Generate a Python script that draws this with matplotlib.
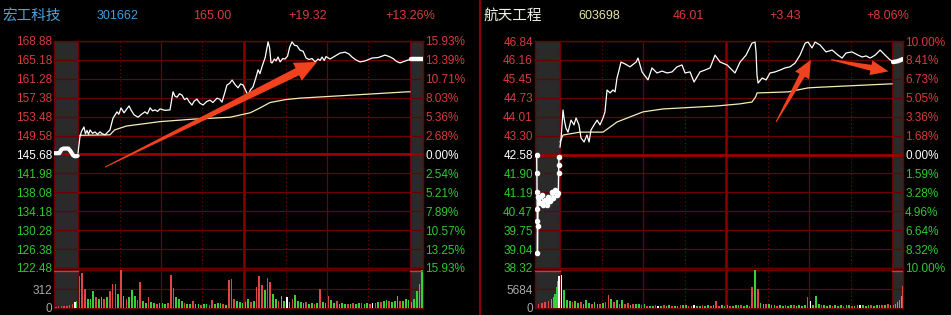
import numpy as np
import matplotlib
matplotlib.use("Agg")
import matplotlib.pyplot as plt
from matplotlib.patches import Polygon
from matplotlib.transforms import IdentityTransform

# ---------------- data ----------------
# header
left_name, left_code, left_price, left_chg, left_pct = "宏工科技", "301662", "165.00", "+19.32", "+13.26%"
right_name, right_code, right_price, right_chg, right_pct = "航天工程", "603698", "46.01", "+3.43", "+8.06%"

# axis labels
left_price_labels = ["168.88", "165.18", "161.28", "157.38", "153.48", "149.58", "145.68",
                     "141.98", "138.08", "134.18", "130.28", "126.38", "122.48"]
left_pct_labels = ["15.93%", "13.39%", "10.71%", "8.03%", "5.36%", "2.68%", "0.00%",
                   "2.54%", "5.21%", "7.89%", "10.57%", "13.25%", "15.93%"]
right_price_labels = ["46.84", "46.16", "45.45", "44.73", "44.01", "43.30", "42.58",
                      "41.90", "41.19", "40.47", "39.75", "39.04", "38.32"]
right_pct_labels = ["10.00%", "8.41%", "6.73%", "5.05%", "3.36%", "1.68%", "0.00%",
                    "1.59%", "3.28%", "4.96%", "6.64%", "8.32%", "10.00%"]
left_vol_labels = ["0", "312"]
right_vol_labels = ["0", "5684"]

# left stock: call auction, intraday price, average, closing auction (minutes from 9:30)
left_pre_t = [-17.3, -13.5, -12.0, -10.5, -7.0, -5.5, -3.5, -2.0, -0.3]
left_pre_p = [145.95, 145.95, 146.7, 146.9, 146.9, 146.4, 145.5, 145.3, 145.4]
left_t = [0, 1.4, 2.5, 4.3, 5.4, 6.5, 7.6, 8.7, 10.5, 12.3, 14.1, 15.9, 17.7, 19.5, 21.3, 23.1,
          25.3, 28.2, 29.5, 31.1, 33.3, 35.0, 36.9, 38.7, 40.5, 43.4, 45.9, 48.4, 50.2, 52.1,
          54.0, 55.7, 57.5, 59.3, 62.9, 66.5, 68.7, 70.1, 71.6, 73.4, 75.2, 77.0, 78.8, 80.5,
          82.4, 84.0, 86.0, 88.0, 90.4, 93.0, 95.4, 97.5, 100.5, 102.3, 104.1, 106.0, 107.7,
          109.6, 111.4, 113.5, 115.7, 117.5, 119.3, 121.0, 122.9, 124.7, 126.5, 128.4, 130.2,
          131.5, 133.0, 135.3, 137.4, 138.5, 139.5, 140.3, 142.0, 143.2, 144.6, 146.1, 148.0,
          149.7, 151.5, 153.0, 154.7, 156.5, 158.3, 160.5, 162.7, 164.9, 167.0, 169.2, 171.4,
          173.6, 175.0, 176.4, 178.0, 179.3, 182.2, 185.8, 189.4, 193.1, 196.0, 198.1, 201.0,
          203.9, 207.5, 212.6, 217.0, 222.0, 225.0, 227.8, 230.3, 232.8, 235.7, 238.6, 240]
left_p = [145.99, 149.3, 150.4, 151.3, 149.9, 150.6, 149.8, 150.7, 150.0, 150.3, 149.8, 150.3,
          149.9, 149.7, 150.2, 150.7, 153.1, 154.4, 153.9, 155.2, 154.2, 154.9, 155.6, 154.6,
          153.8, 153.3, 153.9, 154.4, 154.0, 155.2, 154.6, 154.8, 154.5, 155.0, 154.7, 154.8,
          158.5, 157.6, 157.4, 158.1, 157.8, 156.9, 157.2, 156.4, 155.8, 156.6, 157.0, 156.2,
          155.8, 156.5, 156.8, 156.3, 157.2, 157.0, 156.4, 158.2, 159.9, 160.2, 160.9, 160.0,
          159.3, 160.1, 159.9, 158.9, 157.8, 158.9, 159.5, 161.2, 163.0, 162.2, 163.6, 165.5,
          168.7, 167.5, 164.5, 164.4, 165.2, 164.8, 165.6, 164.6, 165.3, 165.2, 165.8, 167.6,
          168.7, 168.0, 167.9, 167.0, 166.8, 165.4, 165.1, 165.3, 164.6, 165.2, 164.9, 165.6,
          164.9, 165.7, 165.2, 165.8, 166.4, 166.6, 166.2, 165.6, 165.0, 164.6, 164.8, 165.4,
          165.5, 166.0, 165.7, 165.3, 164.7, 164.4, 164.7, 165.0, 165.0]
left_avg_t = [1.4, 23.1, 26.5, 35.0, 59.3, 83.0, 109.9, 124.4, 131.6, 138.8, 150.0, 160.5, 196.7, 238.6, 240]
left_avg_p = [149.6, 149.7, 150.7, 151.5, 152.4, 152.9, 153.3, 154.2, 155.2, 156.3, 156.9, 157.2, 157.8, 158.5, 158.5]
left_post_t = [240.7, 249.2]
left_post_p = [165.2, 165.2]

# right stock
right_pre_t = [-16.9, -16.7, -16.6, -16.5, -16.4, -16.3, -16.1, -15.7, -14.5, -13.2, -12.1, -10.8,
               -9.6, -8.5, -7.2, -6.0, -4.8, -3.6, -2.4, -1.2, -1.0, -0.9, -0.8]
right_pre_p = [42.58, 41.90, 41.16, 40.54, 40.10, 38.90, 39.90, 41.00, 40.76, 41.06, 40.69, 40.87,
               40.69, 41.00, 40.82, 41.19, 40.94, 41.25, 41.06, 41.13, 41.90, 42.20, 42.47]
right_t = [0, 0.7, 2.2, 2.9, 4.3, 5.8, 8.0, 10.1, 11.6, 13.7, 15.2, 17.4, 19.5, 21.0, 22.4, 24.6,
           26.8, 28.9, 31.1, 32.5, 34.0, 36.2, 38.3, 39.8, 41.2, 42.7, 44.1, 47.0, 50.6, 55.0,
           56.4, 59.3, 63.6, 66.5, 70.1, 73.8, 77.4, 81.0, 84.6, 88.2, 90.4, 94.0, 96.9, 101.2,
           104.8, 108.5, 112.1, 115.7, 120.8, 126.5, 130.2, 134.5, 138.8, 141.0, 141.7, 142.4,
           143.2, 146.1, 149.0, 151.8, 155.5, 159.1, 162.7, 166.3, 169.9, 173.5, 177.2, 179.3,
           182.2, 184.4, 188.0, 192.3, 196.7, 201.0, 203.9, 206.8, 211.1, 215.5, 218.4, 221.3,
           224.2, 227.8, 231.4, 235.0, 238.6, 240]
right_p = [42.86, 43.12, 44.25, 43.95, 43.57, 43.42, 43.87, 43.69, 43.95, 43.69, 43.20, 43.05,
           43.31, 43.05, 43.50, 43.69, 43.87, 43.69, 43.95, 44.18, 45.00, 44.89, 45.00, 44.93,
           45.45, 45.75, 46.05, 45.98, 45.87, 46.05, 46.20, 45.68, 45.38, 45.83, 45.64, 45.71,
           45.64, 45.68, 45.87, 45.94, 45.64, 45.68, 45.30, 45.68, 45.75, 45.83, 46.31, 46.05,
           45.94, 45.64, 46.05, 46.31, 46.76, 46.80, 46.43, 45.56, 45.26, 45.45, 45.38, 45.64,
           45.68, 45.75, 45.83, 45.87, 46.01, 46.31, 46.76, 46.80, 46.58, 46.80, 46.69, 46.43,
           46.50, 46.31, 46.20, 46.39, 46.43, 46.31, 46.24, 46.28, 46.20, 46.31, 46.50, 46.31,
           46.13, 46.10]
right_avg_t = [0.0, 2.2, 14.5, 31.1, 36.2, 41.2, 50.6, 60.0, 74.5, 99.0, 113.0, 130.0, 138.8,
               141.5, 142.4, 164.9, 179.3, 185.8, 238.6, 240]
right_avg_p = [43.05, 43.31, 43.42, 43.42, 43.61, 43.80, 43.99, 44.18, 44.29, 44.36, 44.40,
               44.48, 44.55, 44.75, 44.89, 44.93, 45.08, 45.10, 45.23, 45.23]
right_post_t = [240.8, 244.0, 246.0, 247.8]
right_post_p = [46.05, 46.08, 46.12, 46.16]

# volume: 2-minute bins in the session, plus auction bars
left_vol = [526, 572, 312, 150, 150, 273, 177, 150, 177, 150,
            177, 273, 400, 400, 230, 616, 204, 150, 177, 290,
            204, 130, 431, 110, 90, 177, 100, 80, 70, 80,
            80, 70, 80, 536, 330, 177, 150, 110, 90, 70,
            60, 123, 70, 60, 50, 70, 60, 55, 130, 60,
            80, 80, 60, 50, 454, 476, 150, 123, 100, 90,
            96, 150, 96, 123, 338, 525, 380, 300, 487, 420,
            230, 150, 123, 204, 110, 180, 100, 150, 215, 123,
            96, 80, 96, 70, 80, 70, 80, 312, 100, 80,
            204, 130, 90, 110, 70, 80, 60, 70, 60, 80,
            70, 90, 80, 60, 80, 70, 90, 80, 100, 96,
            110, 130, 110, 96, 110, 200, 110, 123, 150, 130]
left_vol_dir = ("rrrgggrggr" "grrrgrgrgg" "grrggrggrg" "ggrrrgggrg" "grggrggrrg" "ggrgrrrggg"
                "ggrgrrrgrr" "ggrggwgrgg" "ggrggrgrgg" "rggrgggrgr" "ggrggrwrgr" "ggrgggrggg")
left_pre_vt = [-16, -14, -12, -10, -8, -6, -4, -2, -1]
left_pre_v = [16, 32, 32, 32, 32, 43, 70, 96, 123]
left_pre_dir = "rrrrrrrwg"
left_post_vt = [241, 243, 245, 247, 248.8]
left_post_v = [96, 150, 284, 391, 616]
left_post_dir = "ggggg"

right_vol = [9770, 5370, 2250, 2050, 1760, 1950, 1465, 1660, 1075, 2250,
             1465, 1270, 1760, 1270, 1075, 1465, 1760, 4000, 2740, 1760,
             2440, 1270, 2250, 1075, 1465, 977, 1270, 1075, 1270, 880,
             1270, 684, 684, 586, 780, 586, 684, 780, 586, 780,
             684, 586, 684, 780, 880, 977, 684, 586, 780, 586,
             684, 780, 684, 880, 684, 880, 1950, 684, 780, 684,
             880, 684, 586, 780, 880, 780, 684, 780, 684, 6350,
             11240, 5670, 1465, 1270, 1075, 1270, 880, 780, 684, 780,
             684, 780, 684, 880, 780, 684, 780, 684, 880, 3420,
             1950, 977, 3710, 1075, 880, 780, 684, 780, 684, 780,
             684, 780, 684, 880, 780, 684, 684, 780, 780, 880,
             684, 880, 780, 684, 880, 977, 780, 977, 1075, 880]
right_vol_dir = ("wgggrggrgg" "grggrgrrgr" "grgrrgrggr" "grggrwgrgg" "rggrggrgwg" "grggrgrrgg"
                 "grgggrggrr" "grggrgggrg" "grggrggggr" "wgggrgggrg" "ggrggrggwg" "ggrgggrgrg")
right_pre_vt = [-15.7, -13.2, -10.8, -8.4, -6.0, -4.8, -3.6, -2.4, -1.7, -0.6]
right_pre_v = [1270, 1465, 1660, 1950, 2740, 3420, 4200, 6155, 8100, 9570]
right_pre_dir = "rrrrgggggw"
right_post_vt = [241.0, 242.5, 244.0, 245.5, 247.0, 247.8]
right_post_v = [780, 1270, 1760, 2440, 3710, 6640]
right_post_dir = "rggggr"

# ---------------- style ----------------
W, H = 951, 315
BG = "black"
GRID = "#6e0000"
RED = "#d83c3c"
GREEN = "#32c832"
GRAY_TXT = "#a8a8a8"
AUCTION = "#2a2a2a"
BAR_COL = {"r": "#e04444", "g": "#38d038", "w": "#ffffff"}
ARROW = "#f0421e"
FONT = ["Liberation Sans", "DejaVu Sans"]
CJK = ["Noto Sans CJK SC", "DejaVu Sans"]

plt.rcParams["font.family"] = FONT
fig = plt.figure(figsize=(W / 100, H / 100), dpi=100, facecolor=BG)


def rect(x0, x1, ytop, ybot):
    return [x0 / W, 1 - ybot / H, (x1 - x0) / W, (ybot - ytop) / H]


def ftext(x, y, s, color, size=9, fam=FONT):
    fig.text(x / W, 1 - y / H, s, color=color, fontsize=size, family=fam, ha="left", va="center")


def arrow(ax, t0, p0, t1, p1, tail_w, shaft_w, head_w, head_len):
    a = np.array(ax.transData.transform((t0, p0)))
    b = np.array(ax.transData.transform((t1, p1)))
    d = b - a
    L = np.hypot(*d)
    u = d / L
    n = np.array([-u[1], u[0]])
    base = b - u * head_len
    pts = [a + n * tail_w / 2, base + n * shaft_w / 2, base + n * head_w / 2, b,
           base - n * head_w / 2, base - n * shaft_w / 2, a - n * tail_w / 2]
    fig.add_artist(Polygon(pts, closed=True, facecolor=ARROW, edgecolor="none",
                           transform=IdentityTransform(), zorder=20))


def panel(x0, m0, m1, x1, price_labels, pct_labels, vol_labels,
          pre_t, pre_p, t, p, avg_t, avg_p, post_t, post_p,
          vol, vol_dir, pre_vt, pre_v, pre_dir, post_vt, post_v, post_dir,
          pre_style):
    ppm = (m1 - m0) / 240.0
    xl = ((x0 - m0) / ppm, 240 + (x1 - m1) / ppm)
    hi, lo = float(price_labels[0]), float(price_labels[-1])
    prev = float(price_labels[6])
    levels = np.linspace(hi, lo, len(price_labels))

    axp = fig.add_axes(rect(x0, x1, 41, 268))
    axv = fig.add_axes(rect(x0, x1, 270, 308))
    vmax = 2 * float(vol_labels[1])
    for ax in (axp, axv):
        ax.set_facecolor(BG)
        ax.set_xlim(*xl)
        ax.axvspan(xl[0], 0, color=AUCTION, zorder=0, lw=0)
        ax.axvspan(240, xl[1], color=AUCTION, zorder=0, lw=0)
        for s in ax.spines.values():
            s.set_color(GRID)
            s.set_linewidth(1.0)
        ax.set_xticks([])
        for tv in (0, 60, 180, 240):
            ax.axvline(tv, color=GRID, lw=0.9, zorder=1)
        ax.axvline(120, color="#880000", lw=1.8, zorder=1)
        for tv in (30, 90, 150, 210):
            ax.axvline(tv, color="#8a0000", lw=0.8, ls=(0, (1, 2.5)), zorder=1)

    axp.set_ylim(lo, hi)
    for lev in levels:
        axp.axhline(lev, color=GRID, lw=0.9, zorder=1)
    axp.axhline(prev, color="#9c0000", lw=2.0, zorder=1)
    cols = [RED] * 6 + ["white"] + [GREEN] * 6
    axp.set_yticks(levels)
    axp.set_yticklabels(price_labels, fontsize=8.5)
    axp.tick_params(axis="y", length=0, pad=1.5)
    for lab, c in zip(axp.get_yticklabels(), cols):
        lab.set_color(c)
    axr = axp.twinx()
    axr.set_ylim(lo, hi)
    axr.set_yticks(levels)
    axr.set_yticklabels(pct_labels, fontsize=8.5)
    axr.tick_params(axis="y", length=0, pad=1.5)
    for lab, c in zip(axr.get_yticklabels(), cols):
        lab.set_color(c)
    for s in axr.spines.values():
        s.set_visible(False)

    # price lines
    if pre_style == "thick":
        axp.plot(pre_t, pre_p, color="white", lw=3.0, solid_capstyle="round", zorder=5)
    else:
        axp.plot(pre_t, pre_p, color="white", lw=1.0, marker="o", ms=3, zorder=5)
    axp.plot(t, p, color="white", lw=0.9, zorder=5)
    axp.plot(avg_t, avg_p, color="#f3eeb4", lw=0.9, zorder=4)
    axp.plot(post_t, post_p, color="white", lw=3.2, solid_capstyle="round", zorder=5)

    # volume
    axv.set_ylim(0, vmax)
    axv.axhline(float(vol_labels[1]), color=GRID, lw=0.9, zorder=1)
    bt = np.arange(len(vol)) * 2 + 1
    axv.bar(bt, vol, width=1.2, color=[BAR_COL[c] for c in vol_dir], zorder=3, lw=0)
    axv.bar(pre_vt, pre_v, width=1.1, color=[BAR_COL[c] for c in pre_dir], zorder=3, lw=0)
    axv.bar(post_vt, post_v, width=1.1, color=[BAR_COL[c] for c in post_dir], zorder=3, lw=0)
    axv.plot([xl[0], 0], [vmax * 0.97] * 2, color="#c04040", lw=1.0, zorder=4)
    axv.plot([240, xl[1]], [vmax * 0.97] * 2, color="#c04040", lw=1.0, zorder=4)
    axv.set_yticks([0, float(vol_labels[1])])
    axv.set_yticklabels(vol_labels, fontsize=8.5, color=GRAY_TXT)
    axv.tick_params(axis="y", length=0, pad=1.5)
    return axp


axL = panel(54, 78, 410, 423, left_price_labels, left_pct_labels, left_vol_labels,
            left_pre_t, left_pre_p, left_t, left_p, left_avg_t, left_avg_p, left_post_t, left_post_p,
            left_vol, left_vol_dir, left_pre_vt, left_pre_v, left_pre_dir,
            left_post_vt, left_post_v, left_post_dir, "thick")
axR = panel(535, 560, 892, 903, right_price_labels, right_pct_labels, right_vol_labels,
            right_pre_t, right_pre_p, right_t, right_p, right_avg_t, right_avg_p, right_post_t, right_post_p,
            right_vol, right_vol_dir, right_pre_vt, right_pre_v, right_pre_dir,
            right_post_vt, right_post_v, right_post_dir, "dots")

# divider between the two panels
fig.add_artist(plt.Line2D([480 / W, 480 / W], [0, 1], color="#8a0000", lw=1.6))

# header
ftext(2, 16, left_name, "#4aa3df", 10.5, CJK)
ftext(97, 16, left_code, "#3d9ee0", 9)
ftext(193, 16, left_price, RED, 9)
ftext(288, 16, left_chg, RED, 9)
ftext(385, 16, left_pct, RED, 9)
ftext(483, 16, right_name, "#f2f2e4", 10.5, CJK)
ftext(578, 16, right_code, "#e4e4a4", 9)
ftext(673, 16, right_price, RED, 9)
ftext(769, 16, right_chg, RED, 9)
ftext(866, 16, right_pct, RED, 9)

# annotation arrows (in chart coordinates: minutes, price)
arrow(axL, 19.5, 143.1, 172.8, 164.6, 1.0, 8.0, 20.0, 22.0)
arrow(axR, 156.2, 43.80, 181.4, 46.14, 1.0, 6.0, 16.0, 18.0)
arrow(axR, 196.0, 46.14, 237.5, 45.70, 1.0, 6.0, 15.0, 18.0)

fig.savefig("out.png", dpi=100, facecolor=BG)
